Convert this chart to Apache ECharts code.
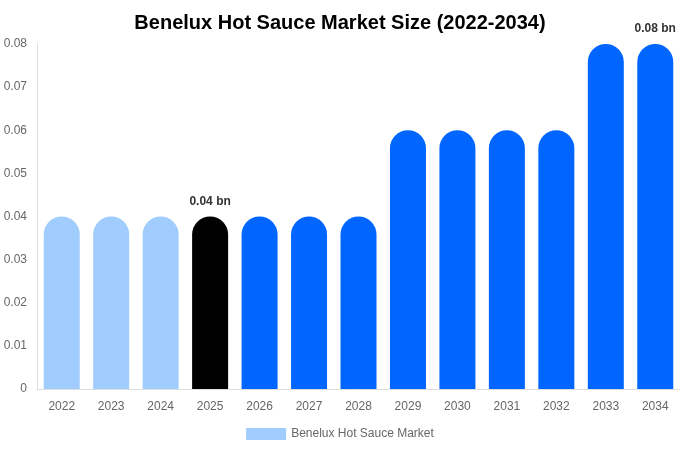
<!DOCTYPE html>
<html>
<head>
<meta charset="utf-8">
<script src="https://cdn.jsdelivr.net/npm/echarts@6/dist/echarts.min.js"></script>
<style>
  html, body { margin: 0; padding: 0; background: #fff; }
  #chart { width: 680px; height: 450px; }
</style>
</head>
<body>
<div id="chart"></div>
<script>
var years = ['2022', '2023', '2024', '2025', '2026', '2027', '2028', '2029', '2030', '2031', '2032', '2033', '2034'];
var marketSize = [0.04, 0.04, 0.04, 0.04, 0.04, 0.04, 0.04, 0.06, 0.06, 0.06, 0.06, 0.08, 0.08];
var labelled = ['2025', '2034'];

var myChart = echarts.init(document.getElementById('chart'));

var seriesData = marketSize.map(function(v, i) {
	var y = parseInt(years[i]);
	var color = y < 2025 ? '#a0cdfd' : (y == 2025 ? '#000000' : '#0066ff');
	return {
		value: v,
		itemStyle: { color: color },
		label: { show: labelled.indexOf(years[i]) >= 0 }
	};
});

var option = {
	backgroundColor: '#fff',
	textStyle: { fontFamily: 'Liberation Sans, Arial, sans-serif' },
	title: {
		text: 'Benelux Hot Sauce Market Size (2022-2034)',
		left: 'center',
		top: 8,
		textStyle: { fontSize: 20, fontWeight: 'bold', color: '#000' }
	},
	legend: {
		bottom: 5,
		left: 'center',
		itemWidth: 40,
		itemHeight: 12,
		icon: 'rect',
		itemStyle: { color: '#a0cdfd', borderRadius: 0 },
		textStyle: { color: '#666', fontSize: 12 },
		data: ['Benelux Hot Sauce Market']
	},
	grid: { left: 37, right: 0, top: 44, bottom: 61 },
	xAxis: {
		type: 'category',
		data: years,
		axisLine: { lineStyle: { color: '#ddd' } },
		axisTick: { show: false },
		axisLabel: { color: '#666', fontSize: 12, margin: 12 }
	},
	yAxis: {
		type: 'value',
		min: 0,
		max: 0.08,
		interval: 0.01,
		axisLine: { show: true, lineStyle: { color: '#ddd' } },
		axisTick: { show: false },
		splitLine: { show: false },
		axisLabel: { color: '#666', fontSize: 12, margin: 10 }
	},
	series: [{
		name: 'Benelux Hot Sauce Market',
		type: 'bar',
		barWidth: 36,
		itemStyle: { color: '#a0cdfd', borderRadius: [18, 18, 0, 0] },
		label: {
			position: 'top',
			distance: 9,
			color: '#333',
			fontSize: 12,
			fontWeight: 'bold',
			formatter: function(p) { return p.value + ' bn'; }
		},
		data: seriesData
	}]
};

myChart.setOption(option);
</script>
</body>
</html>
